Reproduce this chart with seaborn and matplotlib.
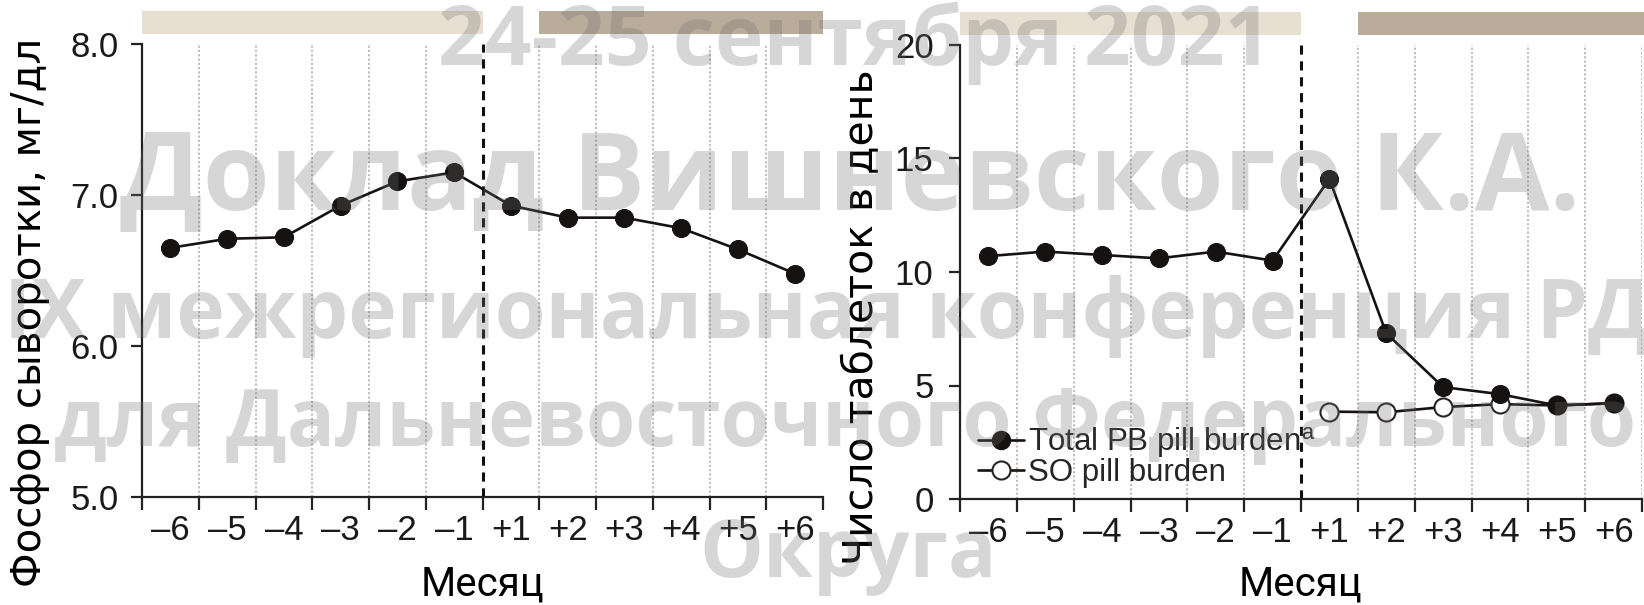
import numpy as np
import pandas as pd
import matplotlib
matplotlib.use("Agg")
import matplotlib.pyplot as plt
import matplotlib.transforms as mtransforms
from matplotlib.patches import Rectangle
from matplotlib.lines import Line2D
import seaborn as sns

# ---------------- data ----------------
months = ["–6", "–5", "–4", "–3", "–2", "–1", "+1", "+2", "+3", "+4", "+5", "+6"]
phosphorus = [6.65, 6.71, 6.72, 6.93, 7.09, 7.15, 6.93, 6.85, 6.85, 6.78, 6.64, 6.48]
total_pb = [10.7, 10.9, 10.75, 10.6, 10.9, 10.5, 14.1, 7.3, 4.93, 4.62, 4.12, 4.22]
so_months = ["+1", "+2", "+3", "+4", "+5", "+6"]
so_pb = [3.85, 3.82, 4.05, 4.18, 4.12, 4.22]

left_yticks = [5.0, 6.0, 7.0, 8.0]
left_yticklabels = ["5.0", "6.0", "7.0", "8.0"]
right_yticks = [0, 5, 10, 15, 20]
right_yticklabels = ["0", "5", "10", "15", "20"]

left_ylabel = "Фосфор сыворотки, мг/дл"
right_ylabel = "Число таблеток в день"
xlabel = "Месяц"
legend_labels = ["Total PB pill burden$^{\\mathregular{a}}$", "SO pill burden"]
watermark_lines = ["24-25 сентября 2021",
                   "Доклад Вишневского К.А.",
                   "IX межрегиональная конференция РДО",
                   "для Дальневосточного Федерального",
                   "Округа"]

# ---------------- style ----------------
sns.set_theme(style="white")
plt.rcParams["font.family"] = ["Liberation Sans", "DejaVu Sans"]
narrow = ["Liberation Sans Narrow", "Liberation Sans", "DejaVu Sans"]

W, H = 1644, 605
fig = plt.figure(figsize=(W / 100, H / 100), dpi=100)
fig.patch.set_facecolor("white")

axL = fig.add_axes([142 / W, 1 - 497 / H, 681 / W, 453 / H])
axR = fig.add_axes([960 / W, 1 - 499 / H, 682 / W, 454 / H])

pos = {m: i for i, m in enumerate(months)}
dfL = pd.DataFrame({"pos": [pos[m] for m in months], "val": phosphorus})
dfT = pd.DataFrame({"pos": [pos[m] for m in months], "val": total_pb})
dfS = pd.DataFrame({"pos": [pos[m] for m in so_months], "val": so_pb})

line_col = "#161212"
light_bar = "#e7dfd2"
dark_bar = "#b9ac9b"
grid_col = "#b3aaa0"


def decorate(ax, yticks, yticklabels, ylim, ypad, last_dotted):
    n = len(months)
    ax.set_xlim(-0.5, n - 0.5)
    ax.set_ylim(*ylim)
    bounds = np.arange(-0.5, n, 1.0)
    ax.set_xticks(bounds)
    ax.set_xticklabels([""] * len(bounds))
    ax.set_xticks(np.arange(n), minor=True)
    ax.set_xticklabels(months, minor=True)
    ax.tick_params(axis="x", which="major", length=9.5, width=1.6,
                   color="#222222", direction="out", bottom=True)
    ax.tick_params(axis="x", which="minor", length=0, pad=12,
                   labelsize=25, labelcolor="#1a1a1a", bottom=True)
    ax.set_yticks(yticks)
    ax.set_yticklabels(yticklabels)
    ax.tick_params(axis="y", length=8, width=1.6, color="#222222",
                   direction="out", pad=ypad, labelsize=25,
                   labelcolor="#1a1a1a", left=True)
    for lab in ax.get_xticklabels(minor=True) + ax.get_yticklabels():
        lab.set_family(narrow)
    for s in ["top", "right"]:
        ax.spines[s].set_visible(False)
    for s in ["left", "bottom"]:
        ax.spines[s].set_linewidth(1.6)
        ax.spines[s].set_color("#222222")
    ax.grid(False)
    ax.set_xlabel("")
    ax.set_ylabel("")
    # dotted separators
    for b in bounds:
        if b in (-0.5, 5.5):
            continue
        if b == n - 0.5 and not last_dotted:
            continue
        ax.axvline(b, color=grid_col, lw=1.1, ls=(0, (1.4, 1.4)), zorder=1)
    ax.axvline(5.5, color="#111111", lw=2.2, ls=(0, (3.0, 2.2)), zorder=2)
    # top bars
    tr = mtransforms.blended_transform_factory(ax.transData, ax.transAxes)
    ax.add_patch(Rectangle((-0.5, 1.022), 6.0, 0.051, transform=tr,
                           clip_on=False, facecolor=light_bar, edgecolor="none"))
    ax.add_patch(Rectangle((6.5, 1.022), 5.0 + (0.05 if last_dotted else 0), 0.051,
                           transform=tr, clip_on=False, facecolor=dark_bar,
                           edgecolor="none"))


# left panel
sns.lineplot(data=dfL, x="pos", y="val", ax=axL, color=line_col, lw=1.9,
             marker="o", markersize=13, markeredgecolor=line_col,
             markerfacecolor=line_col, zorder=5)
decorate(axL, left_yticks, left_yticklabels, (5.0, 8.0), 9, False)

# right panel
sns.lineplot(data=dfS, x="pos", y="val", ax=axR, color=line_col, lw=1.9,
             marker="o", markersize=13, markeredgecolor="#2a2222",
             markeredgewidth=1.5, markerfacecolor="white", zorder=4)
sns.lineplot(data=dfT, x="pos", y="val", ax=axR, color=line_col, lw=1.9,
             marker="o", markersize=13, markeredgecolor=line_col,
             markerfacecolor=line_col, zorder=5)
decorate(axR, right_yticks, right_yticklabels, (0, 20), 11, True)

handles = [
    Line2D([], [], color=line_col, lw=1.9, marker="o", markersize=13,
           markerfacecolor=line_col, markeredgecolor=line_col),
    Line2D([], [], color=line_col, lw=1.9, marker="o", markersize=13,
           markerfacecolor="white", markeredgecolor="#2a2222", markeredgewidth=1.5),
]
axR.legend(handles, legend_labels, loc="upper left",
           bbox_to_anchor=(0.027, 0.163), frameon=False,
           prop={"family": narrow, "size": 22.5},
           handlelength=1.45, handletextpad=0.15, labelspacing=-0.05,
           borderpad=0, borderaxespad=0)

# axis labels
fig.text(30 / W, 1 - 312 / H, left_ylabel, rotation=90, ha="center",
         va="center", fontsize=29, family=["DejaVu Sans"], color="black")
fig.text(862 / W, 1 - 317 / H, right_ylabel, rotation=90, ha="center",
         va="center", fontsize=29.5, family=["DejaVu Sans"], color="black")
fig.text(482 / W, 1 - 584 / H, xlabel, ha="center", va="center",
         fontsize=29, family=["Roboto", "DejaVu Sans"], color="black")
fig.text(1301 / W, 1 - 584 / H, xlabel, ha="center", va="center",
         fontsize=29, family=["Roboto", "DejaVu Sans"], color="black")

# watermark
wm_specs = [(855, 65, 59), (850, 210, 78), (860, 338, 59), (845, 446, 57.3), (848, 577, 58)]
for txt, (x, yb, fs) in zip(watermark_lines, wm_specs):
    fig.text(x / W, 1 - yb / H, txt, ha="center", va="baseline",
             fontsize=fs, fontweight="bold", family=["Open Sans", "DejaVu Sans"],
             color="#6e6e6e", alpha=0.28, zorder=20)

fig.savefig("out.png", dpi=100, facecolor="white")
